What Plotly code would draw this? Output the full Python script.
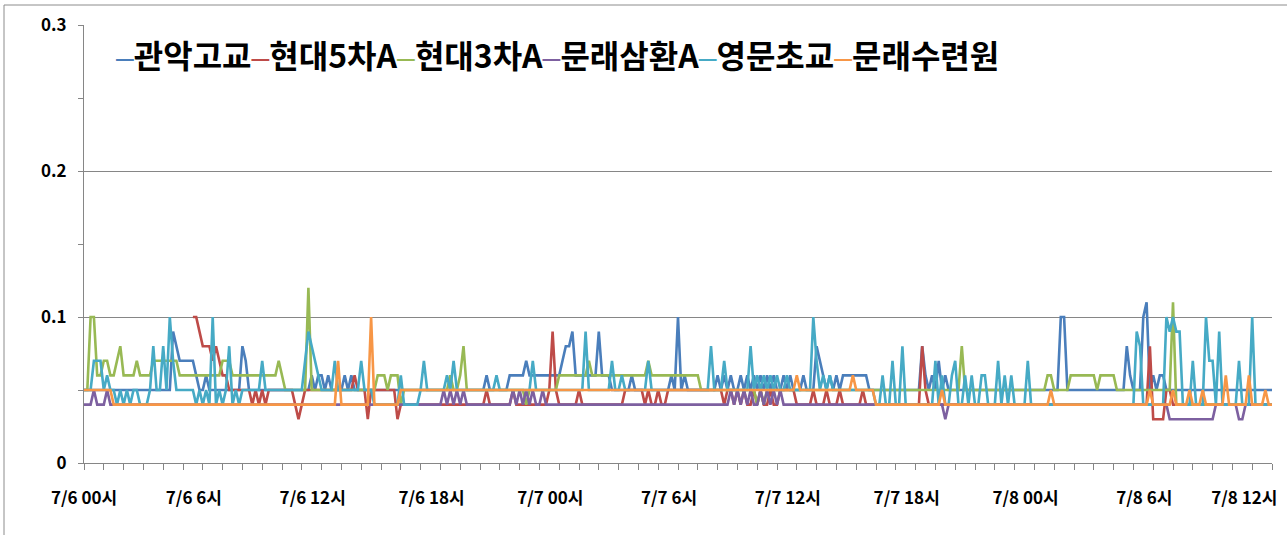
import plotly.graph_objects as go

# ---- data (values in 1/100 units, 10-minute steps, 6 chars per hour; 'a'=10, 'b'=11, 'c'=12, '-'=no data)
series_names = ["관악고교", "현대5차A", "현대3차A", "문래삼환A", "영문초교", "문래수련원"]
series_colors = ["#4A7EBB", "#BE4B48", "#98B954", "#7D60A0", "#46AAC5", "#F79646"]

tick_hours = [0, 6, 12, 18, 24, 30, 36, 42, 48, 54, 60]
tick_labels = ["7/6 00시", "7/6 6시", "7/6 12시", "7/6 18시", "7/7 00시", "7/7 6시",
               "7/7 12시", "7/7 18시", "7/8 00시", "7/8 6시", "7/8 12시"]

gwanak = ["555555", "555555", "555555", "555555", "555987", "777765", "565555", "555555",
          "875555", "555555", "555555", "555656", "656555", "565655", "555555", "555555",
          "555555", "555555", "555555", "555555", "556555", "555666", "667666", "666666",
          "678896", "666666", "966655", "555565", "555555", "555565", "a56555", "555555",
          "656565", "565656", "565656", "556565", "556555", "876565", "656666", "666655",
          "555555", "555555", "558656", "575655", "555555", "555555", "555555", "555555",
          "555555", "55aa55", "555555", "555555", "555586", "555ab5", "656655", "555555",
          "555555", "555555", "555555", "555555", "5"]

hyundai5 = ["------", "------", "------", "------", "------", "---aa9", "888787", "665555",
            "555454", "545555", "555543", "455555", "555555", "555565", "553555", "555553",
            "444444", "444444", "444444", "444444", "445444", "444454", "444444", "444595",
            "444444", "544444", "444444", "445555", "554544", "544555", "555555", "555555",
            "554554", "545445", "454454", "455555", "444445", "444544", "454444", "445444",
            "444444", "444444", "448544", "444444", "444444", "444444", "444444", "444444",
            "444444", "444444", "444444", "444444", "444444", "444448", "333355", "444444",
            "444444", "444444", "444444", "444444", "4"]

hyundai3 = ["55aa66", "776678", "666676", "666777", "777776", "666666", "666666", "777666",
            "666666", "666667", "655555", "55c555", "555555", "555555", "555556", "665666",
            "455555", "555555", "555655", "685555", "555555", "555555", "554555", "555555",
            "666666", "666766", "666666", "666666", "666766", "666666", "666666", "655555",
            "555555", "555555", "454555", "555555", "555555", "555555", "555555", "555555",
            "555555", "555555", "555555", "555555", "558555", "555555", "555555", "555555",
            "555566", "555556", "666666", "656666", "655555", "555555", "555555", "b44444",
            "444444", "444444", "444444", "444444", "4"]

munrae_samhwan = ["444544", "454444", "444444", "444444", "444444", "444444", "444444", "444444",
                  "444444", "444444", "444444", "444444", "444444", "444444", "444444", "444444",
                  "444444", "444444", "454545", "454444", "444444", "444454", "545454", "454444",
                  "444444", "444444", "444444", "444444", "444444", "444444", "444444", "444444",
                  "444454", "545454", "454545", "454444", "444444", "444444", "444444", "444444",
                  "444444", "444444", "444444", "444344", "444444", "444444", "444444", "444444",
                  "444444", "444444", "444444", "444444", "444444", "444444", "444443", "333333",
                  "333333", "344444", "443344", "444444", "4"]

youngmun = ["555777", "565545", "454554", "445855", "85a755", "555545", "454a45", "458454",
            "555555", "755555", "555555", "579876", "555575", "555555", "755544", "444444",
            "644444", "575555", "556575", "555555", "555556", "555555", "555575", "555555",
            "555555", "559555", "555575", "565555", "555755", "555555", "555555", "555585",
            "557555", "555585", "656565", "655655", "55555a", "756565", "555555", "555555",
            "446447", "448444", "444444", "746446", "744646", "446644", "474646", "444474",
            "444444", "444444", "444444", "444444", "444444", "498444", "4444a9", "a99444",
            "7444a7", "749444", "447444", "a44444", "4"]

munrae_suryeon = ["555555", "555444", "444444", "444444", "444444", "444444", "444444", "444444",
                  "444444", "444444", "444444", "444444", "444447", "444444", "444a44", "444444",
                  "555555", "555555", "555555", "555555", "555555", "555555", "555555", "555555",
                  "555555", "555555", "555555", "555555", "555555", "555555", "555555", "555555",
                  "555555", "555555", "555555", "555555", "655555", "555555", "555556", "555555",
                  "444444", "444444", "444444", "445444", "444444", "444444", "444444", "444444",
                  "444445", "444444", "444444", "444444", "444444", "444445", "444444", "544445",
                  "444544", "444464", "444446", "444454", "4"]

all_series = [gwanak, hyundai5, hyundai3, munrae_samhwan, youngmun, munrae_suryeon]


def decode(chunks):
    s = "".join(chunks)
    out = []
    for ch in s:
        if ch == "-":
            out.append(None)
        else:
            out.append(int(ch, 16) / 100.0)
    return out


fig = go.Figure()
for name, color, chunks in zip(series_names, series_colors, all_series):
    vals = decode(chunks)
    hours = [i / 6 for i in range(len(vals))]
    fig.add_trace(go.Scatter(x=hours, y=vals, mode="lines", name=name,
                             line=dict(color=color, width=2.6), connectgaps=False,
                             showlegend=False))

legend_text = "".join(
    f"<span style='color:{c};font-family:Liberation Sans;font-weight:normal'>–</span>{n}"
    for n, c in zip(series_names, series_colors)
)
fig.add_annotation(xref="paper", yref="paper", x=(114 - 84) / 1188, y=(463 - 54) / 438,
                   xanchor="left", yanchor="middle", showarrow=False, text=legend_text,
                   font=dict(family="Noto Sans CJK KR", size=32, color="#000000", weight="bold"))

# outer chart border
fig.add_shape(type="rect", xref="paper", yref="paper",
              x0=(4 - 84) / 1188, x1=(1300 - 84) / 1188,
              y0=(463 - 545) / 438, y1=(463 - 5) / 438,
              line=dict(color="#8C8C8C", width=1), fillcolor="rgba(0,0,0,0)")

# label positions: Excel draws labels slightly left of their tick; the last one is pulled in to fit
label_pos = [h - 0.45 for h in tick_hours]
label_pos[0] = tick_hours[0]
label_pos[-1] = tick_hours[-1] - 1.4

axis_gray = "#868686"
fig.update_layout(
    width=1287, height=535,
    margin=dict(l=84, r=15, t=25, b=72, autoexpand=False),
    paper_bgcolor="white", plot_bgcolor="white",
    font=dict(family="Noto Sans CJK KR", color="#000000"),
    xaxis=dict(range=[0, 60], tickmode="array", tickvals=label_pos, ticktext=tick_labels,
               automargin=False,
               showgrid=False, zeroline=False, showline=True, linecolor=axis_gray, linewidth=1,
               ticks="outside", ticklen=0, tickcolor="rgba(0,0,0,0)", ticklabelstandoff=20,
               ticklabeloverflow="allow",
               tickfont=dict(family="Noto Sans CJK KR", size=17, color="#000000", weight="bold"),
               minor=dict(tickmode="linear", tick0=0, dtick=1, ticks="outside", ticklen=6,
                          tickcolor=axis_gray, showgrid=False)),
    yaxis=dict(range=[0, 0.3], tickmode="array", tickvals=[0, 0.1, 0.2, 0.3],
               ticktext=["0", "0.1", "0.2", "0.3"], showgrid=True, gridcolor=axis_gray,
               automargin=False,
               gridwidth=1, zeroline=False, showline=True, linecolor=axis_gray, linewidth=1,
               ticks="outside", ticklen=5, tickcolor=axis_gray, ticklabelstandoff=8,
               tickfont=dict(family="Noto Sans CJK KR", size=17, color="#000000", weight="bold"),
               minor=dict(tickmode="linear", tick0=0, dtick=0.05, ticks="outside", ticklen=5,
                          tickcolor=axis_gray, showgrid=False)),
)

fig.write_html("out.html", config={"displayModeBar": False},
               post_script="document.body.style.margin='0';")
